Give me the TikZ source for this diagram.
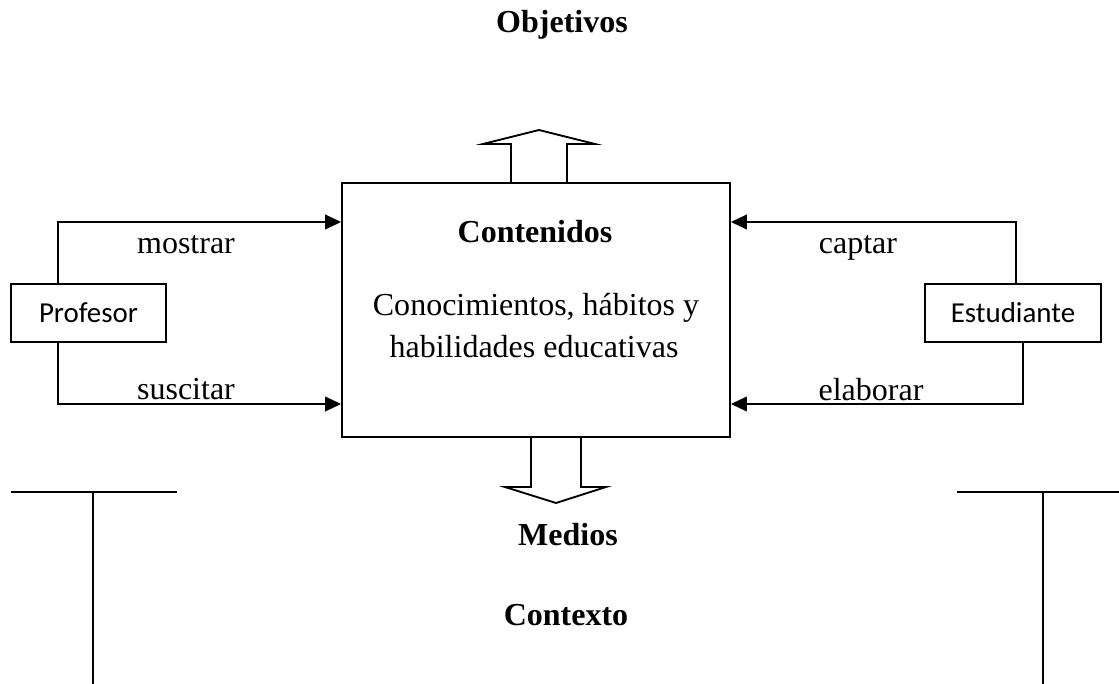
\documentclass[tikz,border=0pt]{standalone}
\usepackage{fontspec}
\setmainfont{Liberation Serif}
\newfontfamily\calib{Carlito}
\usetikzlibrary{arrows.meta}
\begin{document}
\begin{tikzpicture}[x=0.75pt,y=-0.75pt,
  ln/.style={line width=1.4pt},
  arr/.style={ln,-{Triangle[length=12pt,width=11pt]}},
  txt/.style={font=\fontsize{24}{31.5}\selectfont,anchor=base,inner sep=0pt},
  btxt/.style={txt,font=\fontsize{24}{31.5}\selectfont\bfseries},
  actor/.style={draw,ln,font=\calib\fontsize{21.7}{26}\selectfont,minimum height=43.5pt,inner sep=0pt}]
\useasboundingbox (0,0) rectangle (1119,684);
% main box
\node[draw,ln,minimum width=291pt,minimum height=190.5pt,inner sep=0pt] (main) at (536,310) {};
\node[btxt] (cont) at (535,243) {Contenidos};
\node[txt] (con1) at (536,315) {Conocimientos, hábitos y};
\node[txt] (con2) at (534,357) {habilidades educativas};
% actors
\node[actor,minimum width=116pt] (prof) at (88.5,313) {Profesor};
\node[actor,minimum width=132pt] (est) at (1013,313) {Estudiante};
% coordinates
\coordinate (pl) at (58,222);
\coordinate (plb) at (58,404);
\coordinate (er) at (1016,222);
\coordinate (erb) at (1023,404);
% connectors
\draw[arr] (prof.north -| pl) |- (main.west |- pl);
\draw[arr] (prof.south -| plb) |- (main.west |- plb);
\draw[arr] (est.north -| er) |- (main.east |- er);
\draw[arr] (est.south -| erb) |- (main.east |- erb);
% labels
\node[txt] (lm) at (186,253) {mostrar};
\node[txt] (ls) at (186,399) {suscitar};
\node[txt] (lc) at (858,253) {captar};
\node[txt] (le) at (871,400) {elaborar};
% block arrows
\draw[ln,line join=miter] (511,183) -- (511,144) -- (483,144) -- (539,130) -- (595,144) -- (567,144) -- (567,183);
\draw[ln,line join=miter] (531,437) -- (531,487) -- (505,487) -- (556,503) -- (606,487) -- (581,487) -- (581,437);
% titles
\node[btxt] (obj) at (562,33) {Objetivos};
\node[btxt] (med) at (568,545) {Medios};
\node[btxt] (ctx) at (566,625) {Contexto};
% T shapes
\draw[ln] (11,492) -- (177,492);
\draw[ln] (93,492) -- (93,684);
\draw[ln] (957,492) -- (1119,492);
\draw[ln] (1043,492) -- (1043,684);
\end{tikzpicture}
\end{document}
